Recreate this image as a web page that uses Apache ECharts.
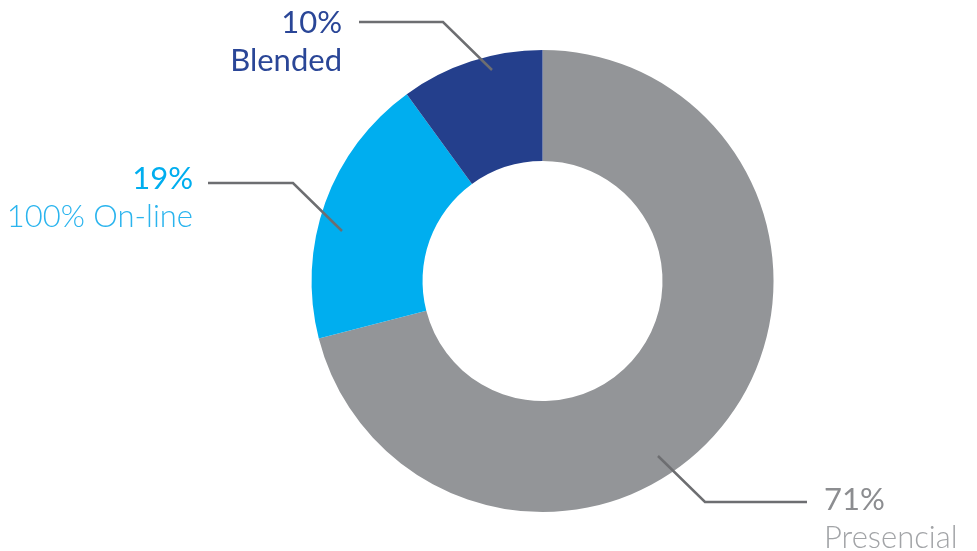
<!DOCTYPE html>
<html>
<head>
<meta charset="utf-8">
<script src="https://cdn.jsdelivr.net/npm/echarts@6/dist/echarts.min.js"></script>
<style>
  html, body { margin: 0; padding: 0; background: #ffffff; }
  #chart { width: 977px; height: 551px; }
</style>
</head>
<body>
<div id="chart"></div>
<script>
// datos
var categories = ['Presencial', '100% On-line', 'Blended']
var values = [71, 19, 10]

// colores de cada sector y de sus textos
var sliceColors = ['#939598', '#00aeef', '#243f8c']
var numColors = ['#8c8d90', '#00aeef', '#2a4697']
var nameColors = ['#a2a4a7', '#2ab4ee', '#2a4697']
var nameWeights = [300, 300, 400]

// posición de etiquetas y líneas (anotación)
var labelSpots = [
  { x: 824, y: 519, align: 'left', line: [[658, 456], [705, 502], [807, 502]] },
  { x: 193, y: 198, align: 'right', line: [[342, 231], [293, 183], [208, 183]] },
  { x: 342, y: 42, align: 'right', line: [[492, 70], [443, 22], [359, 22]] }
]

var myChart = echarts.init(document.getElementById('chart'))

var rich = {}
categories.forEach(function (c, i) {
  rich['p' + i] = { fontFamily: 'Lato', fontSize: 31, fontWeight: 400, color: numColors[i], lineHeight: 38, align: labelSpots[i].align }
  rich['n' + i] = { fontFamily: 'Lato', fontSize: 31, fontWeight: nameWeights[i], color: nameColors[i], lineHeight: 38, align: labelSpots[i].align }
})

var ringData = categories.map(function (c, i) {
  return { name: c, value: values[i], itemStyle: { color: sliceColors[i] } }
})
var labelData = categories.map(function (c, i) {
  return { name: c, value: values[i], itemStyle: { color: 'rgba(0,0,0,0)' } }
})

var option = {
  animation: false,
  series: [
    {
      // anillo
      type: 'pie',
      center: ['55.53%', '51%'],
      radius: [120, 231],
      startAngle: 90,
      clockwise: true,
      silent: true,
      z: 2,
      data: ringData,
      label: { show: false },
      labelLine: { show: false }
    },
    {
      // etiquetas por encima del anillo
      type: 'pie',
      center: ['55.53%', '51%'],
      radius: [120, 231],
      startAngle: 90,
      clockwise: true,
      silent: true,
      z: 5,
      avoidLabelOverlap: false,
      data: labelData,
      label: {
        show: true,
        position: 'outside',
        formatter: function (p) {
          var i = p.dataIndex
          return '{p' + i + '|' + p.value + '%}\n{n' + i + '|' + p.name + '}'
        },
        rich: rich
      },
      labelLine: {
        show: true,
        lineStyle: { color: '#6d6e71', width: 2.5 }
      },
      labelLayout: function (params) {
        var s = labelSpots[params.dataIndex]
        return {
          x: s.x,
          y: s.y,
          align: s.align,
          verticalAlign: 'middle',
          labelLinePoints: s.line
        }
      }
    }
  ]
}

myChart.setOption(option)
window.onresize = function () {
  myChart.resize()
}
</script>
</body>
</html>
